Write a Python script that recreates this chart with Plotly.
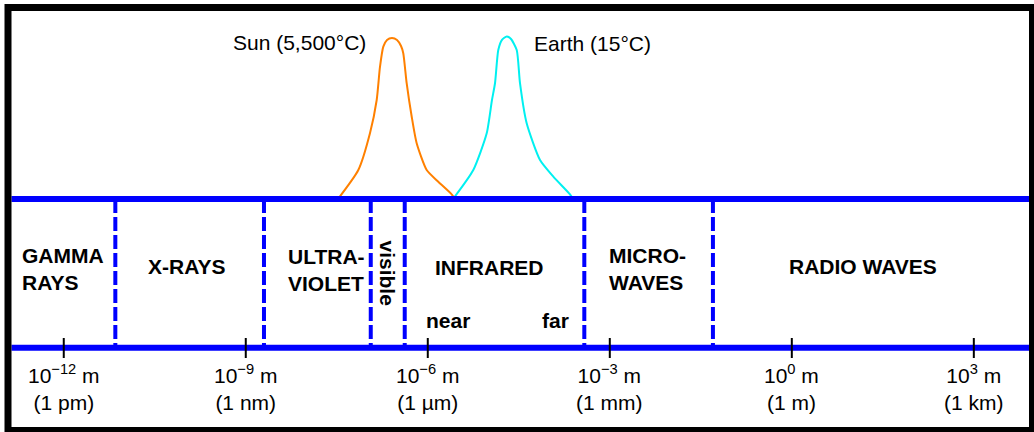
import plotly.graph_objects as go

# ---- data (x in log10 of wavelength in metres, y = relative emission) ----
tick_exponents = [-12, -9, -6, -3, 0, 3]
tick_units = ["1 pm", "1 nm", "1 µm", "1 mm", "1 m", "1 km"]

band_boundaries = [-11.15, -8.70, -6.94, -6.38, -3.42, -1.30]

sun_x = [-7.48, -7.145, -6.952, -6.842, -6.788, -6.733, -6.672, -6.590, -6.507,
         -6.441, -6.404, -6.348, -6.265, -6.183, -6.018, -5.827, -5.606, -5.551]
sun_y = [0.0, 0.18, 0.41, 0.615, 0.82, 0.946, 0.988, 1.0, 0.988,
         0.95, 0.905, 0.719, 0.511, 0.346, 0.18, 0.107, 0.029, 0.0]

earth_x = [-5.584, -5.250, -5.029, -4.942, -4.892, -4.838, -4.777, -4.699, -4.628,
           -4.534, -4.480, -4.370, -4.150, -3.931, -3.656, -3.606]
earth_y = [0.0, 0.18, 0.408, 0.615, 0.719, 0.925, 0.988, 1.01, 0.994,
           0.925, 0.719, 0.47, 0.242, 0.139, 0.029, 0.0]

sun_label = "Sun (5,500°C)"
earth_label = "Earth (15°C)"

BLUE = "#0000FF"
FONT = "Liberation Sans, Arial, sans-serif"
FS = 21
BOTTOM = -0.9236

fig = go.Figure()
fig.add_trace(go.Scatter(x=sun_x, y=sun_y, mode="lines",
                         line=dict(color="#FF8000", width=2, shape="spline", smoothing=0.6),
                         hoverinfo="skip"))
fig.add_trace(go.Scatter(x=earth_x, y=earth_y, mode="lines",
                         line=dict(color="#00F0F0", width=2, shape="spline", smoothing=0.6),
                         hoverinfo="skip"))

shapes = []
# dashed band boundaries
for b in band_boundaries:
    shapes.append(dict(type="line", xref="x", yref="y", x0=b, x1=b, y0=0, y1=BOTTOM,
                       line=dict(color=BLUE, width=4, dash="14px,4px")))
# horizontal blue lines
for yy in [0, BOTTOM]:
    shapes.append(dict(type="line", xref="paper", yref="y", x0=0.0111, x1=0.9952,
                       y0=yy, y1=yy, line=dict(color=BLUE, width=6)))
# ticks
for t in tick_exponents:
    shapes.append(dict(type="line", xref="x", yref="y", x0=t, x1=t, y0=-0.8634, y1=-0.9876,
                       line=dict(color="black", width=2)))
# frame
shapes.append(dict(type="rect", xref="paper", yref="paper",
                   x0=8 / 1034, x1=1032.5 / 1034, y0=1 - 430.5 / 432, y1=1 - 7.5 / 432,
                   line=dict(color="black", width=7)))

ann = []
def A(x, y, text, xanchor="center", bold=False, angle=0, align="center"):
    ann.append(dict(x=x, y=y, xref="x", yref="y", text=("<b>%s</b>" % text) if bold else text,
                    showarrow=False, xanchor=xanchor, yanchor="middle", align=align,
                    textangle=angle, font=dict(family=FONT, size=FS, color="black")))

A(-6.98, 0.97, sun_label, xanchor="right")
A(-4.287, 0.967, earth_label, xanchor="left")

A(-12.721, -0.4348, "GAMMA<br>RAYS", xanchor="left", bold=True, align="left")
A(-9.969, -0.4205, "X-RAYS", bold=True)
A(-8.337, -0.4379, "ULTRA-<br>VIOLET", xanchor="left", bold=True, align="left")
A(-6.656, -0.4627, "visible", bold=True, angle=90)
A(-4.980, -0.4224, "INFRARED", bold=True)
A(-5.675, -0.7516, "near", bold=True)
A(-3.887, -0.7516, "far", bold=True)
A(-3.051, -0.436, "MICRO-<br>WAVES", xanchor="left", bold=True, align="left")
A(1.179, -0.4205, "RADIO WAVES", bold=True)

for t, u in zip(tick_exponents, tick_units):
    exp = ("−%d" % abs(t)) if t < 0 else str(t)
    A(t, -1.169, "10<sup>%s</sup> m<br>(%s)" % (exp, u))

fig.update_layout(
    width=1034, height=432, margin=dict(l=0, r=0, t=0, b=0),
    paper_bgcolor="white", plot_bgcolor="white", showlegend=False,
    xaxis=dict(range=[-13.051, 3.992], visible=False, fixedrange=True),
    yaxis=dict(range=[-1.4472, 1.2360], visible=False, fixedrange=True),
    shapes=shapes, annotations=ann,
)
fig.write_html("out.html")
